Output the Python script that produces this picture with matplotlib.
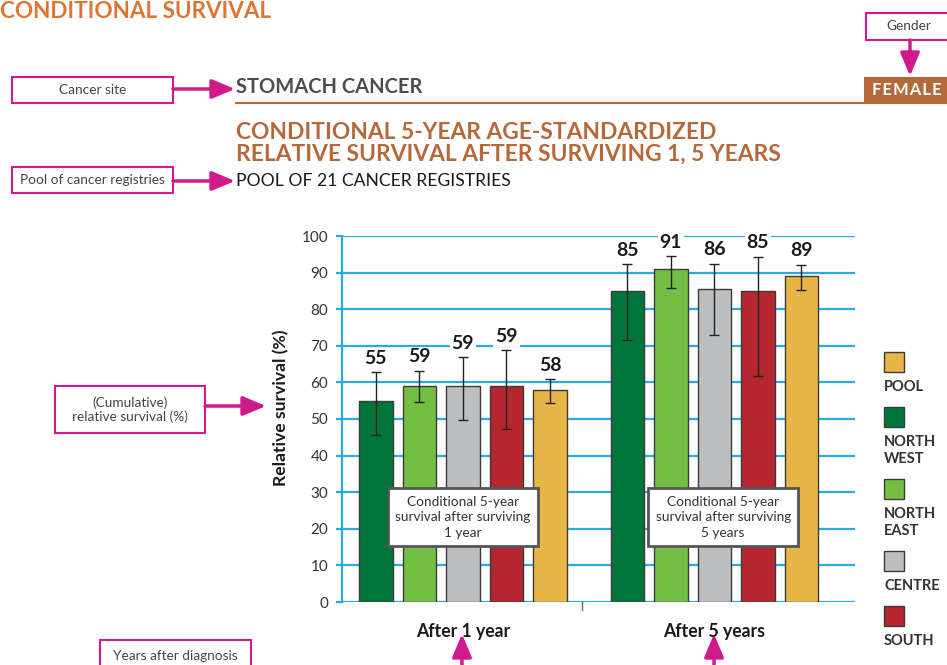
import numpy as np
import matplotlib
matplotlib.use("Agg")
import matplotlib.pyplot as plt
from matplotlib.patches import Rectangle, FancyArrowPatch

plt.rcParams['font.family'] = ['Lato', 'DejaVu Sans']

# data
regions = ["NORTH WEST", "NORTH EAST", "CENTRE", "SOUTH", "POOL"]
colors = ["#00753A", "#72BF44", "#BCBEC0", "#B5262E", "#E7B646"]
groups = ["After 1 year", "After 5 years"]
survival = [[55, 59, 59, 59, 58],
            [85, 91, 86, 85, 89]]
bar_top = [[54.8, 59.1, 58.9, 58.9, 57.8],
           [84.9, 90.9, 85.5, 84.9, 89.1]]
ci_low = [[45.7, 54.7, 49.8, 47.4, 54.5],
          [71.6, 85.8, 73.0, 61.7, 85.3]]
ci_high = [[62.8, 63.1, 66.9, 68.8, 60.9],
           [92.3, 94.4, 92.4, 94.3, 92.1]]
box_texts = ["Conditional 5-year\nsurvival after surviving\n1 year",
             "Conditional 5-year\nsurvival after surviving\n5 years"]
legend_order = ["POOL", "NORTH WEST", "NORTH EAST", "CENTRE", "SOUTH"]

W, H = 947, 665
fig = plt.figure(figsize=(W / 100, H / 100), dpi=100)


def fx(x):
    return x / W


def fy(y):
    return 1 - y / H


MAG = "#D0198A"
BROWN = "#B5693A"
BLUE = "#29ABE2"

ax = fig.add_axes([fx(342), fy(602), fx(855) - fx(342), fy(236) - fy(602)])

group_gap = 5.78
width = 0.77
for g in range(2):
    xs = np.arange(5) + g * group_gap
    top = np.array(bar_top[g])
    lo = top - np.array(ci_low[g])
    hi = np.array(ci_high[g]) - top
    ax.bar(xs, top, width=width, color=colors, edgecolor="#3a3a3a", linewidth=1, zorder=3)
    ax.errorbar(xs, top, yerr=[lo, hi], fmt="none", ecolor="#222222",
                elinewidth=1, capsize=3.5, capthick=1, zorder=4)
    for x, v, h in zip(xs, survival[g], ci_high[g]):
        ax.annotate(str(v), (x, h), xytext=(0, 4), textcoords="offset points",
                    ha="center", va="bottom", fontsize=14, fontweight="bold", color="#1a1a1a",
                    bbox=dict(boxstyle="square,pad=0.1", fc="white", ec="none"), zorder=5)
    ax.text(xs[2] if g == 0 else xs[2] + 0.2, 23.2, box_texts[g], ha="center", va="center",
            fontsize=9.8, color="#333333", linespacing=1.35, zorder=6,
            bbox=dict(boxstyle="square,pad=0.55", fc="white", ec="#555555", lw=2))

ax.set_xlim(-0.78, 11.01)
ax.set_ylim(0, 100)
ax.set_yticks(np.arange(0, 101, 10))
ax.yaxis.grid(True, color=BLUE, linewidth=1.6)
ax.set_axisbelow(True)
for s in ["top", "right", "bottom"]:
    ax.spines[s].set_visible(False)
ax.spines["left"].set_color(BLUE)
ax.spines["left"].set_linewidth(1.6)
ax.tick_params(axis="y", length=4, color=BLUE, width=1.6, pad=6, labelsize=11, labelcolor="#333333")
ax.set_xticks([2, 2 + group_gap])
ax.set_xticklabels(groups, fontsize=12.7, fontweight="bold", color="#1a1a1a")
ax.tick_params(axis="x", length=0, pad=15)
ax.plot([4.73, 4.73], [0, -2.2], color="#666666", lw=1, clip_on=False)
ax.set_ylabel("Relative survival (%)", fontsize=12.6, fontweight="bold", color="#1a1a1a")
ax.yaxis.set_label_coords(-(342 - 289) / 513, 0.53)

# headings
fig.text(0, fy(11), "CONDITIONAL SURVIVAL", fontsize=16.2, fontweight="bold", color="#DD7533",
         ha="left", va="center")
fig.text(fx(236), fy(87), "STOMACH CANCER", fontsize=14.5, fontweight="bold", color="#4d4d4d",
         ha="left", va="center")
fig.add_artist(plt.Line2D([fx(236), 1], [fy(103), fy(103)], color=BROWN, lw=1.5))
fig.add_artist(Rectangle((fx(864), fy(103)), fx(947) - fx(864), fy(77) - fy(103),
                         transform=fig.transFigure, fc=BROWN, ec="none"))
fig.text(fx(907), fy(90), "F E M A L E".replace(" ", "\u200a"), fontsize=12, fontweight="bold",
         color="white", ha="center", va="center")
fig.text(fx(236), fy(143), "CONDITIONAL 5-YEAR AGE-STANDARDIZED\nRELATIVE SURVIVAL AFTER SURVIVING 1, 5 YEARS",
         fontsize=16.4, fontweight="bold", color=BROWN, ha="left", va="center", linespacing=1.05)
fig.text(fx(236), fy(181), "POOL OF 21 CANCER REGISTRIES", fontsize=12.6, color="#1a1a1a",
         ha="left", va="center")


def callout(x0, y0, x1, y1, text):
    fig.add_artist(Rectangle((fx(x0), fy(y1)), fx(x1) - fx(x0), fy(y0) - fy(y1),
                             transform=fig.transFigure, fc="white", ec=MAG, lw=1.5))
    fig.text(fx((x0 + x1) / 2), fy((y0 + y1) / 2), text, fontsize=9.8, color="#444444",
             ha="center", va="center", linespacing=1.15)


def arrow(xa, ya, xb, yb):
    fig.add_artist(FancyArrowPatch((fx(xa), fy(ya)), (fx(xb), fy(yb)), transform=fig.transFigure,
                                   arrowstyle="-|>,head_length=1.0,head_width=0.42",
                                   mutation_scale=14, color=MAG, lw=2.5, shrinkA=0, shrinkB=0))


callout(12, 77, 173, 103, "Cancer site")
arrow(173, 89, 235, 89)
callout(12, 167, 173, 193, "Pool of cancer registries")
arrow(173, 181, 235, 181)
callout(866, 13, 952, 40, "Gender")
arrow(910, 40, 910, 76)
callout(55, 386, 205, 433, "(Cumulative)\nrelative survival (%)")
arrow(205, 406, 266, 406)
callout(100, 640, 251, 672, "Years after diagnosis")
arrow(462, 668, 462, 634)
arrow(714, 668, 714, 634)

# legend
cursor = 352
for name in legend_order:
    c = colors[regions.index(name)]
    fig.add_artist(Rectangle((fx(884), fy(cursor + 20)), fx(20), fy(0) - fy(20),
                             transform=fig.transFigure, fc=c, ec="#3a3a3a", lw=1))
    lines = name.split(" ")
    ly = cursor + 35
    for i, ln in enumerate(lines):
        fig.text(fx(884), fy(ly + 17 * i), ln, fontsize=10.5, fontweight="bold", color="#333333",
                 ha="left", va="center")
    cursor = ly + 17 * (len(lines) - 1) + 20

fig.savefig("out.png", dpi=100)
